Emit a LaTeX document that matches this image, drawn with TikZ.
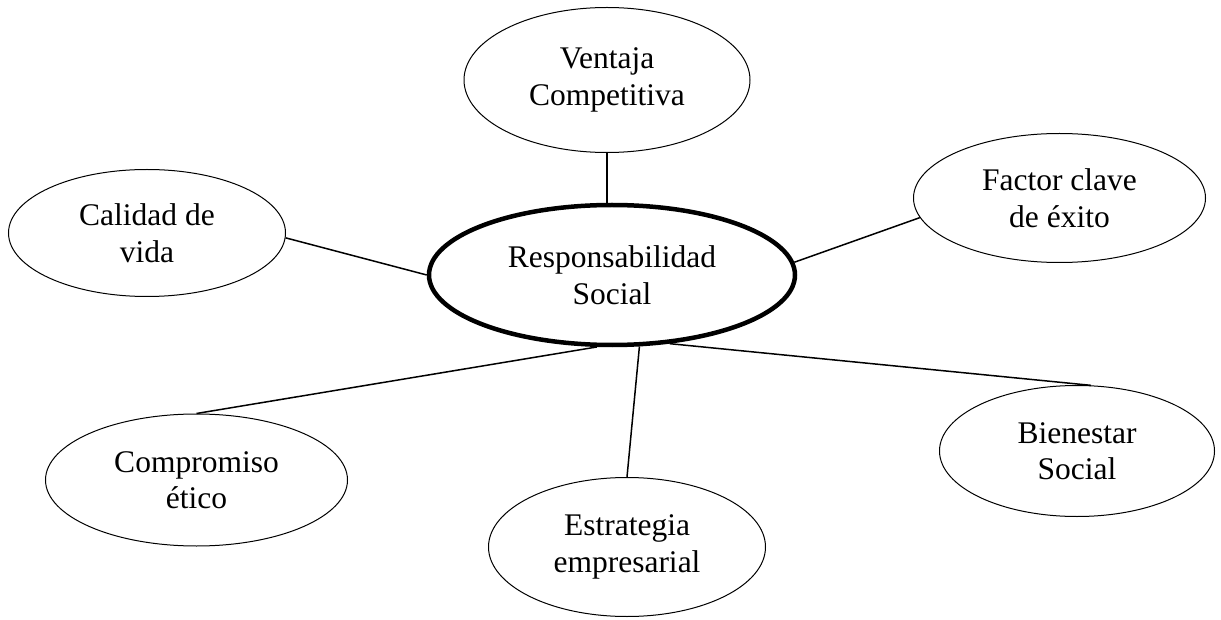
\documentclass[tikz,border=0pt]{standalone}
\usepackage{fontspec}
\setmainfont{Liberation Serif}
\usetikzlibrary{shapes.geometric}
\begin{document}
\begin{tikzpicture}[x=1pt,y=-1pt,
  bubble/.style={ellipse, draw, line width=1pt, inner sep=0pt, align=center,
    font=\fontsize{31.5}{36.5}\selectfont},
  hub/.style={bubble, line width=4.5pt},
  link/.style={line width=1.5pt}]
\useasboundingbox (0,0) rectangle (1221,620);

% central concept
\node[hub, minimum width=366pt, minimum height=140pt] (rs) at (612,275) {Responsabilidad\\Social};

% surrounding concepts
\node[bubble, minimum width=286pt, minimum height=145pt] (vc) at (607,80) {Ventaja\\Competitiva};
\node[bubble, minimum width=292pt, minimum height=129pt] (fc) at (1059.5,198) {Factor clave\\de éxito};
\node[bubble, minimum width=277pt, minimum height=127pt] (cv) at (147,233) {Calidad de\\vida};
\node[bubble, minimum width=302pt, minimum height=132pt] (ce) at (196.5,480) {Compromiso\\ético};
\node[bubble, minimum width=277pt, minimum height=139pt] (ee) at (627,547) {Estrategia\\empresarial};
\node[bubble, minimum width=275pt, minimum height=131pt] (bs) at (1077,451) {Bienestar\\Social};

% connectors
\draw[link] (vc.south) -- (vc.south |- rs.north);
\draw[link] (cv.-2) -- (rs.west);
\draw[link] (fc.188) -- (rs.4);
\draw[link] (ce.north) -- (rs.-102);
\draw[link] (ee.north) -- (rs.-69);
\draw[link] (bs.78) -- (rs.-50);
\end{tikzpicture}
\end{document}
